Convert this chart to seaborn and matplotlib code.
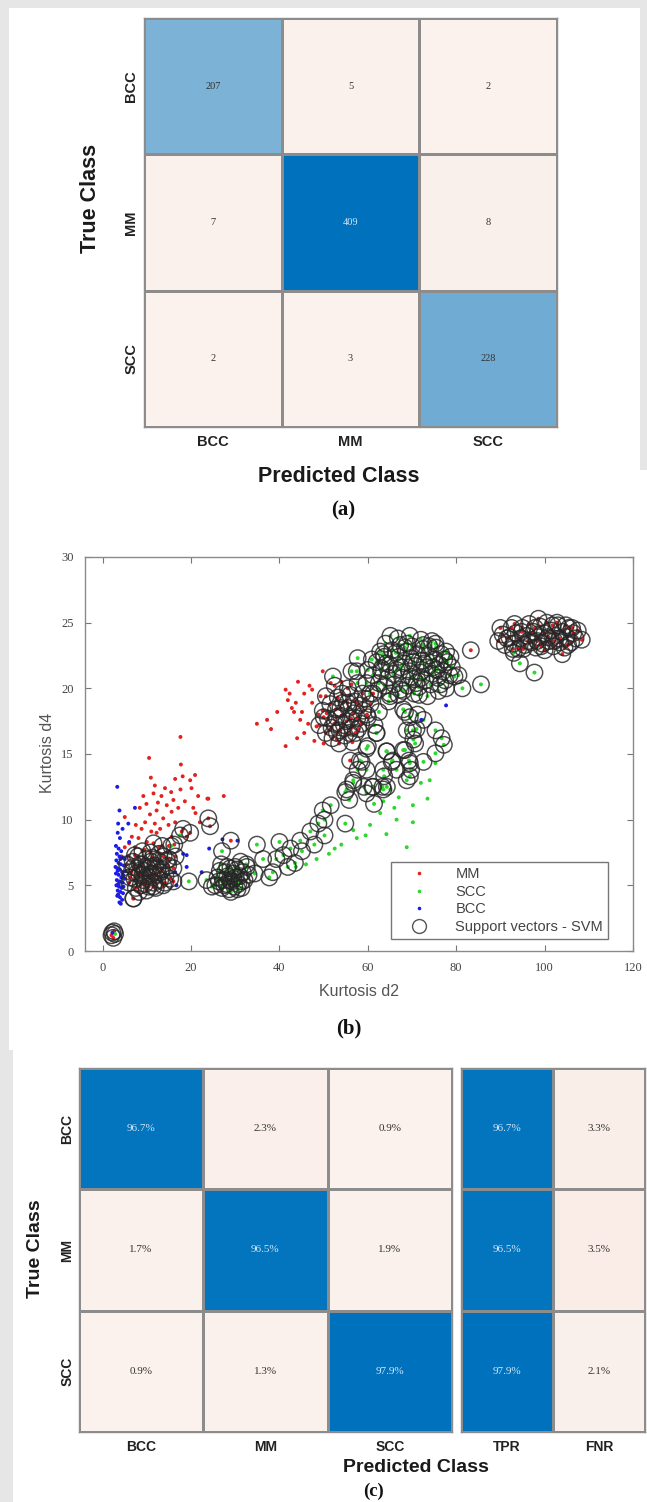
import numpy as np
import pandas as pd
import matplotlib
matplotlib.use("Agg")
import matplotlib.pyplot as plt
import seaborn as sns
from matplotlib.colors import LinearSegmentedColormap
from matplotlib.lines import Line2D
from matplotlib.patches import Rectangle

# ---------------- data ----------------
classes = ["BCC", "MM", "SCC"]
counts = [[207, 5, 2],
          [7, 409, 8],
          [2, 3, 228]]
pct = [[96.7, 2.3, 0.9],
       [1.7, 96.5, 1.9],
       [0.9, 1.3, 97.9]]
rate_cols = ["TPR", "FNR"]
rates = [[96.7, 3.3],
         [96.5, 3.5],
         [97.9, 2.1]]

# scatter (Kurtosis d2, Kurtosis d4)
mm_pts = [(17.6,16.3),(10.5,14.7),(17.7,14.2),(10.9,13.2),(16.4,13.1),(18.1,13.3),(20.9,13.4),(19.8,13.0),
          (11.8,12.6),(14.1,12.4),(15.5,12.1),(11.5,12.0),(13.3,11.8),(17.6,12.3),(20.1,12.4),(21.6,11.8),
          (23.9,11.6),(9.2,11.8),(9.9,11.2),(14.5,11.1),(18.6,11.4),(20.5,10.9),(12.2,10.7),(15.6,10.6),
          (17.1,10.9),(8.4,10.9),(5.0,10.2),(10.7,10.4),(13.7,10.1),(9.6,9.8),(11.8,9.7),(14.9,9.6),
          (16.4,9.8),(13.0,9.3),(6.6,8.7),(8.1,8.6),(10.0,8.3),(5.0,7.9),(7.3,7.9),(12.2,9.0),(17.9,9.1),
          (19.0,8.7),(15.6,8.7),(5.8,7.2),(4.3,7.2),(27.4,11.8),(23.7,11.6),(12.5,11.3),(8.8,9.3),(11.0,9.1),
          (7.5,9.6),(6.0,8.2),(15.0,8.0),(9.5,7.7),(12.8,7.9),(22.0,9.8),(21.0,10.5),(16.0,11.5),
          (34.9,17.3),(37.2,17.6),(38.1,16.9),(41.4,15.6),(41.4,19.9),(42.3,19.6),(41.9,19.1),(44.2,20.5),
          (45.6,19.6),(43.7,18.9),(45.1,18.2),(43.3,18.2),(44.7,17.6),(46.5,17.3),(45.6,16.6),(47.4,18.9),
          (47.4,19.9),(49.3,19.4),(49.8,21.3),(50.7,18.1),(48.8,18.0),(48.4,17.1),(51.2,16.8),(53.0,16.1),
          (54.0,20.5),(56.3,20.3),(57.7,18.9),(51.6,20.4),(42.8,18.5),(46.8,20.2),(44.0,16.2),(39.5,18.2),
          (47.9,16.0),(50.0,15.8)]
scc_pts = [(48.4,7.0),(51.2,7.4),(54.0,8.1),(56.7,9.2),(59.5,8.8),(64.2,8.9),(68.8,7.9),(62.8,10.5),
           (66.0,10.9),(70.2,9.8),(70.2,11.1),(67.0,11.7),(73.5,11.6),(74.0,13.0),(75.3,14.3),(65.1,12.3),
           (43.7,6.4),(46.0,6.6),(52.5,7.8),(57.5,8.6),(60.5,9.6),(63.5,11.4),(72.0,12.8),(66.5,10.0)]
bcc_pts = [(3.3,12.5),(3.8,10.7),(3.5,9.7),(3.4,9.0),(3.9,8.6),(7.3,10.9),(5.8,9.7),(4.5,9.3),(6.0,8.3),
           (18.2,7.4),(19.0,7.3),(16.4,6.0),(19.0,6.4),(22.4,6.0),(16.7,5.0),(27.1,8.5),(30.5,8.4),(24.1,7.8),
           (77.7,18.7),(72.1,17.6),
           (3.0,8.0),(3.6,7.8),(4.2,7.6),(3.2,7.4),(3.8,7.2),(4.5,7.1),(3.1,6.9),(3.6,6.7),(4.1,6.6),(4.8,6.5),
           (3.3,6.3),(3.9,6.2),(4.4,6.0),(3.0,5.9),(3.6,5.8),(4.2,5.6),(4.9,5.5),(3.2,5.4),(3.8,5.3),(4.5,5.2),
           (3.1,5.0),(3.7,4.9),(4.3,4.8),(3.4,4.6),(4.0,4.5),(4.6,4.4),(3.3,4.2),(3.9,4.1),(4.4,3.9),(3.8,3.7),
           (4.1,3.6),(3.5,4.3),(2.9,6.4),(5.2,6.1),(5.0,7.0),(4.6,5.8),(3.5,5.1),(4.0,7.0),(3.4,6.1),(4.7,4.9)]

# support vectors (circles), grouped by the class of the dot inside
sv_mm = [(2.0,1.2),(2.6,1.5),(2.4,1.0),
         (6.0,5.2),(6.5,6.0),(6.8,6.8),(7.2,5.5),(7.5,4.8),(7.8,6.3),(8.0,7.2),(8.3,5.8),(8.6,5.0),(8.9,6.6),
         (9.2,5.4),(9.5,6.1),(9.8,7.0),(10.1,5.7),(10.4,4.9),(10.6,6.4),(11.0,5.9),(11.3,7.1),(11.6,5.2),
         (11.9,6.5),(12.2,5.8),(12.6,6.9),(13.0,5.4),(13.4,6.2),(13.8,7.2),(14.2,5.7),(14.8,6.5),(15.3,5.5),
         (9.0,7.6),(10.8,7.5),(7.0,4.0),(12.0,4.8),(16.0,6.3),(13.5,8.0),(11.5,8.2),(16.5,7.2),(5.5,6.6),
         (16.0,5.3),(14.1,5.2),(11.5,4.9),(6.9,4.0),(16.2,8.1),(19.8,9.0),(18.2,9.3),(23.9,10.1),(24.3,9.5),
         (6.2,5.6),(7.0,6.4),(7.6,5.9),(8.4,6.6),(9.0,5.8),(9.6,5.1),(10.2,6.3),(10.9,6.8),(11.4,5.6),
         (12.4,6.3),(13.1,6.0),(13.7,5.0),(14.5,6.9),(8.2,4.5),(9.9,4.6),(12.8,7.4),(15.0,7.0),(7.3,7.3),
         (29.0,8.4),(56.0,14.5),(83.3,22.9),(108.4,23.7),
         (49.0,17.2),(49.8,18.3),(50.5,16.6),(51.0,17.7),(51.5,18.8),(52.0,16.2),(52.4,17.3),(52.8,18.4),
         (53.2,19.3),(53.6,16.8),(54.0,17.9),(54.4,18.9),(54.8,16.4),(55.2,17.5),(55.6,18.5),(56.0,19.5),
         (56.4,17.0),(56.8,18.1),(57.2,16.6),(57.6,17.7),(58.0,18.7),(58.5,17.3),(59.0,18.3),(59.5,19.2),
         (60.0,17.8),(60.6,18.8),(61.2,19.6),(50.5,19.4),(52.5,20.2),(55.5,20.0),(53.5,15.8),(56.5,15.9),
         (50.0,17.8),(51.8,17.0),(52.9,17.8),(53.8,18.5),(54.6,17.2),(55.4,18.9),(56.2,17.7),(57.0,19.0),
         (57.8,16.9),(58.8,19.6),(53.0,16.6),(55.8,16.6),(59.8,18.0),(54.2,19.6),
         (89.5,23.6),(90.5,24.1),(91.0,23.3),(92.0,23.9),(92.5,24.6),(93.0,23.4),(93.5,24.2),(94.0,23.0),
         (94.5,23.8),(95.0,24.6),(95.5,23.3),(96.0,24.0),(96.5,24.9),(97.0,23.5),(97.5,24.3),(98.0,23.1),
         (98.5,23.9),(99.0,24.7),(99.5,23.4),(100.0,24.2),(100.5,25.0),(101.0,23.6),(101.5,24.4),(102.0,23.2),
         (102.5,24.0),(103.0,24.8),(103.5,23.5),(104.0,24.3),(104.5,23.1),(105.0,23.9),(105.5,24.6),
         (106.0,23.5),(106.5,24.2),(107.0,23.8),(98.6,25.3),(102.8,25.0),(100.0,22.9),(104.0,22.6),
         (90.0,24.6),(91.5,23.8),(93.2,24.9),(94.8,24.3),(96.3,23.6),(97.8,24.6),(99.2,23.2),(100.8,23.9),
         (101.8,24.8),(103.3,23.8),(104.8,24.8),(106.2,24.6),(107.5,24.4),(95.2,23.0),(98.3,23.6),
         (102.2,23.6),(105.3,23.3),(92.8,23.0)]
sv_scc = [(2.8,1.3),(15.5,8.0),(17.5,8.8),(19.5,5.3),(24.7,4.9),(27.0,7.6),(34.9,8.1),(36.3,7.0),(37.7,5.6),
          (34.4,5.9),(32.6,6.4),(40.0,8.3),(39.3,7.0),(41.9,6.4),(40.9,7.3),(45.1,7.6),(44.7,8.4),(47.9,8.1),
          (47.0,9.1),(50.2,8.8),(48.8,9.7),(49.8,10.7),(51.6,11.1),(50.2,10.0),(54.9,9.7),(54.9,12.1),
          (55.8,11.5),(56.7,12.8),(57.7,13.8),(58.6,14.4),(59.1,12.5),(61.0,12.5),(63.3,12.5),(63.7,13.3),
          (61.4,11.2),(60.0,15.6),(61.9,16.6),(64.2,15.2),(65.6,14.5),(68.4,15.3),(69.3,14.5),(69.8,13.8),
          (68.8,13.0),(72.6,14.4),(70.7,15.8),(70.2,16.8),(68.4,18.2),(71.2,18.0),(75.3,16.8),(76.7,16.2),
          (77.2,15.7),(75.3,15.05),(63.5,12.3),(38.5,6.0),(42.5,7.8),(43.5,6.7),(23.5,5.4),
          (25.5,5.0),(26.0,5.6),(26.5,6.1),(27.0,4.8),(27.3,5.4),(27.7,6.0),(28.0,5.1),(28.3,5.7),(28.6,4.7),
          (28.9,6.3),(29.2,5.3),(29.5,5.9),(29.8,4.9),(30.1,5.6),(30.4,6.2),(30.7,5.1),(31.0,5.7),(31.4,4.8),
          (31.7,6.0),(32.1,5.4),(32.5,6.6),(26.8,6.6),(29.0,4.5),(33.0,5.8),(31.2,6.8),
          (27.5,5.0),(28.7,5.4),(29.6,5.5),(30.5,4.7),(26.3,5.3),(31.5,5.3),(28.2,6.4),(30.0,6.4),
          (62.0,22.0),(63.0,21.3),(63.5,22.6),(64.5,20.8),(65.0,21.8),(65.5,22.9),(66.0,20.3),(66.5,21.4),
          (67.0,22.4),(67.3,23.3),(67.8,20.8),(68.2,21.9),(68.6,22.8),(69.0,20.2),(69.3,21.3),(69.7,22.3),
          (70.0,23.2),(70.4,20.7),(70.8,21.7),(71.2,22.6),(71.5,20.1),(71.9,21.2),(72.3,22.1),(72.6,23.0),
          (73.0,20.6),(73.4,21.6),(73.8,22.5),(74.2,20.3),(74.6,21.1),(75.0,22.2),(75.4,23.1),(75.8,20.8),
          (76.2,21.8),(76.6,22.6),(77.0,21.3),(77.5,20.6),(78.0,22.0),(78.5,21.0),(79.0,21.6),(64.0,23.4),
          (66.8,23.8),(69.5,24.0),(72.0,23.7),(74.5,23.6),(61.2,21.0),(62.5,20.4),(65.0,19.6),(68.0,19.8),
          (70.5,19.6),(73.5,19.4),(76.0,19.8),
          (62.8,22.8),(64.2,21.9),(65.8,21.1),(66.3,22.7),(67.5,21.6),(68.9,23.4),(70.2,22.0),(71.0,20.4),
          (72.8,21.9),(73.9,23.2),(74.8,21.6),(76.4,20.3),(77.3,22.2),(78.7,22.4),(79.6,20.9),(63.8,20.2),
          (66.9,19.5),(69.8,20.9),(72.1,20.8),(75.6,21.4),
          (65.1,24.0),(57.7,22.3),(60.0,21.4),(52.1,20.9),(56.3,21.3),(57.7,20.4),(60.5,19.6),(64.7,19.0),
          (67.4,19.9),(71.6,19.5),(77.7,20.0),(81.4,20.0),(85.6,20.3),(80.5,21.0),(77.7,22.8),(75.3,23.4),
          (72.6,23.3),(68.4,23.1),(63.7,22.4),(94.4,21.9),(97.7,21.2),(93.0,22.7),
          (60.9,22.2),(57.5,21.3),(63.1,21.5),(59.7,20.4),(62.4,19.9),(65.0,19.4),(68.0,18.4),(69.5,17.8),
          (71.0,16.9),(68.8,16.8),(72.6,17.6),(70.3,16.1),(68.0,15.3),(62.0,16.6),(59.7,15.4),(58.2,14.5),
          (64.3,15.2),(65.4,14.4),(66.5,13.8),(69.5,14.3),(69.5,13.3),(63.5,13.8),(59.7,13.8),(56.7,13.0),
          (55.2,12.3),(61.2,12.5),(64.3,12.5),(59.7,12.0),(62.5,18.2),(61.5,17.2)]
sv_bcc = [(2.2,1.4)]

# ---------------- style ----------------
sns.set_theme(style="white")
plt.rcParams["font.family"] = ["Liberation Sans", "DejaVu Sans"]

W, H = 647, 1502
BG = "#e6e6e6"
GRID = "#8c8c8c"
fig = plt.figure(figsize=(W / 100, H / 100), dpi=100, facecolor=BG)


def px(x, y):
    return x / W, 1 - y / H


fig.patches.append(Rectangle((9 / W, 1 - 1050 / H), (W - 9) / W, 1042 / H, transform=fig.transFigure,
                             facecolor="white", edgecolor="none", zorder=-10))
fig.patches.append(Rectangle((640 / W, 1 - 470 / H), 7 / W, 462 / H, transform=fig.transFigure,
                             facecolor=BG, edgecolor="none", zorder=-9))
fig.patches.append(Rectangle((13 / W, 0), (W - 13) / W, 1449 / H, transform=fig.transFigure,
                             facecolor="white", edgecolor="none", zorder=-10))

blue_cmap = LinearSegmentedColormap.from_list("cb", ["#fbf3ef", "#0072bd"])
red_cmap = LinearSegmentedColormap.from_list("cr", ["#fbf3ef", "#d95319"])


def conf_heat(ax, values, cols, rows, blue_mask, labels, vmax, fs, dark_thr):
    arr = np.array(values, float)
    df = pd.DataFrame(arr, index=rows, columns=cols)
    lab = np.array(labels)
    common = dict(ax=ax, vmin=0, vmax=vmax, cbar=False, linewidths=1, linecolor=GRID,
                  annot=lab, fmt="", annot_kws={"fontsize": fs, "family": "Liberation Serif"})
    sns.heatmap(df, mask=~blue_mask, cmap=blue_cmap, **common)
    sns.heatmap(df, mask=blue_mask, cmap=red_cmap, **common)
    for t in ax.texts:
        x, y = t.get_position()
        v = arr[int(y), int(x)]
        t.set_color("#d4e6f6" if v / vmax > dark_thr else "#333333")
    for sp in ax.spines.values():
        sp.set_visible(True)
        sp.set_color(GRID)
        sp.set_linewidth(1)
    ax.tick_params(length=0)


def style_ticks(ax, fs, pad_x, pad_y, ylabels=True):
    ax.tick_params(axis="x", pad=pad_x)
    ax.tick_params(axis="y", pad=pad_y)
    plt.setp(ax.get_xticklabels(), fontweight="bold", fontsize=fs, rotation=0, color="#222222")
    if ylabels:
        plt.setp(ax.get_yticklabels(), fontweight="bold", fontsize=fs, rotation=90, va="center",
                 color="#222222")


# ---------------- (a) ----------------
ax_a = fig.add_axes([144 / W, 1 - 427 / H, 413 / W, 409 / H])
diag = np.eye(3, dtype=bool)
conf_heat(ax_a, counts, classes, classes, diag, [[str(v) for v in r] for r in counts],
          max(max(r) for r in counts), 7.5, 0.8)
style_ticks(ax_a, 10.5, 6, 4)
ax_a.set_xlabel("")
ax_a.set_ylabel("")
fig.text(*px(90, 198), "True Class", rotation=90, ha="center", va="center", fontsize=15.5,
         fontweight="bold", color="#1a1a1a")
fig.text(*px(339, 476), "Predicted Class", ha="center", va="center", fontsize=15.5,
         fontweight="bold", color="#1a1a1a")
fig.text(*px(343, 510), "(a)", ha="center", va="center", fontsize=15, fontweight="bold",
         family="Liberation Serif", color="#111111")

# ---------------- (b) ----------------
ax_b = fig.add_axes([85 / W, 1 - 951 / H, 548 / W, 394 / H])


def pts_df(pts, cls):
    return pd.DataFrame(pts, columns=["x", "y"]).assign(cls=cls)


dots = pd.concat([pts_df(mm_pts, "MM"), pts_df(sv_mm, "MM"),
                  pts_df(scc_pts, "SCC"), pts_df(sv_scc, "SCC"),
                  pts_df(bcc_pts, "BCC"), pts_df(sv_bcc, "BCC")], ignore_index=True)
svs = pd.concat([pts_df(sv_mm, "MM"), pts_df(sv_scc, "SCC"), pts_df(sv_bcc, "BCC")], ignore_index=True)
palette = {"MM": "#e3211f", "SCC": "#2bd82b", "BCC": "#1c1ce6"}

sns.scatterplot(data=dots, x="x", y="y", hue="cls", hue_order=["MM", "SCC", "BCC"], palette=palette,
                s=8, linewidth=0, legend=False, ax=ax_b, zorder=2)
sns.scatterplot(data=svs, x="x", y="y", s=140, facecolor="none", edgecolor="#262626", linewidth=1.05,
                alpha=0.82, legend=False, ax=ax_b, zorder=3)
ax_b.set_xlim(-4, 120)
ax_b.set_ylim(0, 30)
ax_b.set_xticks(range(0, 121, 20))
ax_b.set_yticks(range(0, 31, 5))
ax_b.tick_params(direction="in", top=True, right=True, bottom=True, left=True, length=4, width=0.8,
                 color="#777777", labelsize=9, labelcolor="#444444", pad=8)
for lab in ax_b.get_xticklabels() + ax_b.get_yticklabels():
    lab.set_family("Liberation Serif")
for sp in ax_b.spines.values():
    sp.set_color("#8a8a8a")
    sp.set_linewidth(1)
ax_b.set_xlabel("")
ax_b.set_ylabel("")
fig.text(*px(359, 992), "Kurtosis d2", ha="center", va="center", fontsize=11.5, color="#555555")
fig.text(*px(47, 753), "Kurtosis d4", rotation=90, ha="center", va="center", fontsize=11.5,
         color="#555555")
fig.text(*px(349, 1028), "(b)", ha="center", va="center", fontsize=15, fontweight="bold",
         family="Liberation Serif", color="#111111")

handles = [Line2D([], [], ls="", marker="o", ms=2.6, mec="none", mfc=palette["MM"], label="MM"),
           Line2D([], [], ls="", marker="o", ms=2.6, mec="none", mfc=palette["SCC"], label="SCC"),
           Line2D([], [], ls="", marker="o", ms=2.6, mec="none", mfc=palette["BCC"], label="BCC"),
           Line2D([], [], ls="", marker="o", ms=10, mfc="none", mec="#555555", mew=1.0,
                  label="Support vectors - SVM")]
leg = ax_b.legend(handles=handles, loc="lower right", bbox_to_anchor=(0.955, 0.03), borderaxespad=0,
                  fancybox=False, frameon=True, fontsize=10.5, labelspacing=0.25, handlelength=3.2,
                  handletextpad=0.9, borderpad=0.35)
leg.get_frame().set_edgecolor("#555555")
leg.get_frame().set_linewidth(1.0)
for t in leg.get_texts():
    t.set_color("#444444")

# ---------------- (c) ----------------
ax_c = fig.add_axes([78.5 / W, 1 - 1432 / H, 373.5 / W, 364 / H])
conf_heat(ax_c, pct, classes, classes, diag, [[f"{v:.1f}%" for v in r] for r in pct],
          max(max(r) for r in pct), 8, 0.6)
style_ticks(ax_c, 10, 6, 3)
ax_c.set_xlabel("")
ax_c.set_ylabel("")

ax_c2 = fig.add_axes([461 / W, 1 - 1432 / H, 184 / W, 364 / H])
tpr_mask = np.zeros((3, 2), dtype=bool)
tpr_mask[:, 0] = True
conf_heat(ax_c2, rates, rate_cols, classes, tpr_mask, [[f"{v:.1f}%" for v in r] for r in rates],
          max(max(r) for r in pct), 8, 0.6)
style_ticks(ax_c2, 10, 6, 3, ylabels=False)
ax_c2.set_yticks([])
ax_c2.set_xlabel("")
ax_c2.set_ylabel("")

fig.text(*px(35, 1249), "True Class", rotation=90, ha="center", va="center", fontsize=14,
         fontweight="bold", color="#1a1a1a")
fig.text(*px(416, 1468), "Predicted Class", ha="center", va="center", fontsize=14,
         fontweight="bold", color="#1a1a1a")
fig.text(*px(374, 1491), "(c)", ha="center", va="center", fontsize=13.5, fontweight="bold",
         family="Liberation Serif", color="#111111")

fig.savefig("out.png", dpi=100, facecolor=BG)
